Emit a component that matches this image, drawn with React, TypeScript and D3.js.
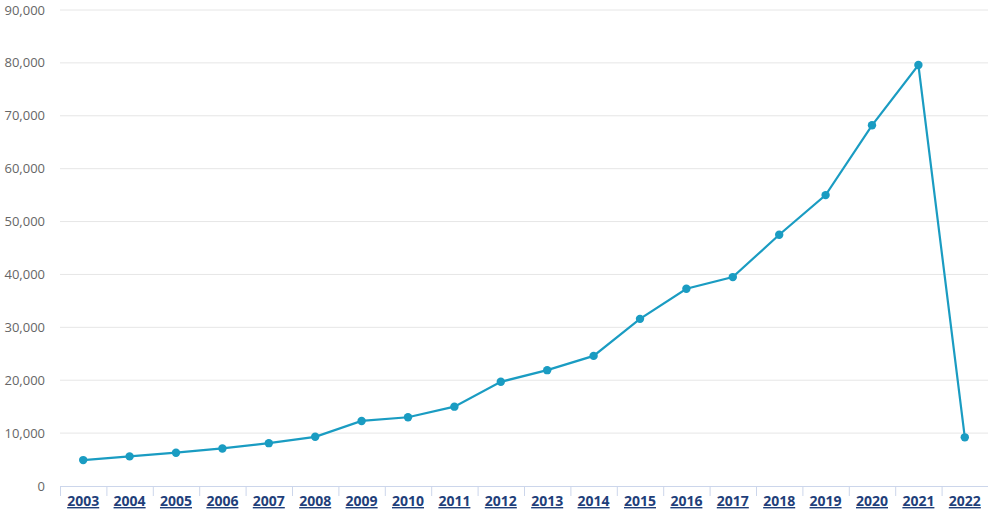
import React from "react";
import * as d3 from "d3";

const years = ["2003","2004","2005","2006","2007","2008","2009","2010","2011","2012","2013","2014","2015","2016","2017","2018","2019","2020","2021","2022"];
const values = [4900,5600,6300,7100,8100,9300,12300,13000,15000,19700,21900,24600,31600,37300,39500,47500,55000,68200,79600,9200];
const yTicks = [0,10000,20000,30000,40000,50000,60000,70000,80000,90000];

export default function App() {
  const W = 988, H = 512;
  const left = 60, right = 988, top = 10, bottom = 486;
  const x = d3.scaleBand().domain(years).range([left, right]);
  const y = d3.scaleLinear().domain([0, 90000]).range([bottom, top]);
  const fmt = d3.format(",");
  const line = d3.line<number>()
    .x((_, i) => (x(years[i]) as number) + x.bandwidth() / 2)
    .y((d) => y(d));
  const boundaries = years.map((yr) => x(yr) as number).concat([right]);
  return (
    <svg width={W} height={H} style={{ position: "absolute", left: 0, top: 0, background: "#fff" }}>
      {yTicks.map((t) => (
        <g key={t}>
          {t > 0 && <line x1={left} x2={right} y1={y(t)} y2={y(t)} stroke="#e6e6e6" strokeWidth={1} />}
          <text x={45} y={y(t)} dy="0.35em" textAnchor="end" fontFamily="Open Sans, sans-serif" fontSize={13} fill="#666">
            {fmt(t)}
          </text>
        </g>
      ))}
      <line x1={left} x2={right} y1={bottom + 0.5} y2={bottom + 0.5} stroke="#ccd6eb" strokeWidth={1} />
      {boundaries.map((b, i) => (
        <line key={i} x1={b + 0.5} x2={b + 0.5} y1={bottom} y2={bottom + 10} stroke="#ccd6eb" strokeWidth={1} />
      ))}
      {years.map((yr) => (
        <text key={yr} x={(x(yr) as number) + x.bandwidth() / 2} y={506} textAnchor="middle"
          fontFamily="Open Sans, sans-serif" fontSize={14} fontWeight="bold" fill="#1f3f7a" textDecoration="underline">
          {yr}
        </text>
      ))}
      <path d={line(values) || ""} fill="none" stroke="#1a9cc2" strokeWidth={2.2} />
      {values.map((v, i) => (
        <circle key={i} cx={(x(years[i]) as number) + x.bandwidth() / 2} cy={y(v)} r={4.2} fill="#1a9cc2" />
      ))}
    </svg>
  );
}
